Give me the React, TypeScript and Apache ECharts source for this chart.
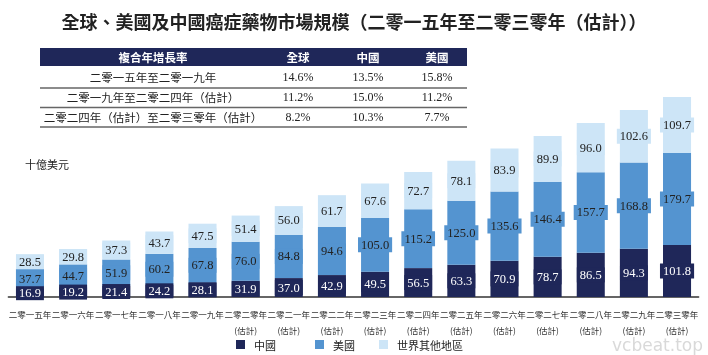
import React, { useEffect, useRef } from "react";
import * as echarts from "echarts";

const years = [
  "二零一五年", "二零一六年", "二零一七年", "二零一八年", "二零一九年",
  "二零二零年\n(估計)", "二零二一年\n(估計)", "二零二二年\n(估計)", "二零二三年\n(估計)",
  "二零二四年\n(估計)", "二零二五年\n(估計)", "二零二六年\n(估計)", "二零二七年\n(估計)",
  "二零二八年\n(估計)", "二零二九年\n(估計)", "二零三零年\n(估計)",
];
const china = [16.9, 19.2, 21.4, 24.2, 28.1, 31.9, 37.0, 42.9, 49.5, 56.5, 63.3, 70.9, 78.7, 86.5, 94.3, 101.8];
const usa = [37.7, 44.7, 51.9, 60.2, 67.8, 76.0, 84.8, 94.6, 105.0, 115.2, 125.0, 135.6, 146.4, 157.7, 168.8, 179.7];
const rest = [28.5, 29.8, 37.3, 43.7, 47.5, 51.4, 56.0, 61.7, 67.6, 72.7, 78.1, 83.9, 89.9, 96.0, 102.6, 109.7];

const seriesNames = ["中國", "美國", "世界其他地區"];
const colors = ["#1f2759", "#5494d0", "#cde5f7"];

const tableHeader = ["複合年增長率", "全球", "中國", "美國"];
const tablePeriods = [
  "二零一五年至二零一九年",
  "二零一九年至二零二四年（估計）",
  "二零二四年（估計）至二零三零年（估計）",
];
const cagrGlobal = ["14.6%", "11.2%", "8.2%"];
const cagrChina = ["13.5%", "15.0%", "10.3%"];
const cagrUSA = ["15.8%", "11.2%", "7.7%"];

const CJK = "'Noto Sans CJK TC', 'Noto Sans CJK SC', sans-serif";
const SERIF = "'Liberation Serif', 'DejaVu Serif', serif";

export default function App() {
  const ref = useRef<HTMLDivElement>(null);
  useEffect(() => {
    if (!ref.current) return;
    const chart = echarts.init(ref.current, undefined, { renderer: "svg" });

    const colX = [153, 298, 368, 437];
    const rowY = [77, 97, 117];
    const graphics: any[] = [
      { type: "rect", shape: { x: 40, y: 48, width: 427, height: 18 }, style: { fill: "#1f2759" } },
    ];
    tableHeader.forEach((h, i) => {
      graphics.push({
        type: "text", x: colX[i], y: 57,
        style: { text: h, fill: "#ffffff", font: `bold 11.5px ${CJK}`, textAlign: "center", textVerticalAlign: "middle" },
      });
    });
    tablePeriods.forEach((p, r) => {
      graphics.push({
        type: "text", x: colX[0], y: rowY[r],
        style: { text: p, fill: "#222", font: `11.5px ${CJK}`, textAlign: "center", textVerticalAlign: "middle" },
      });
      [cagrGlobal[r], cagrChina[r], cagrUSA[r]].forEach((v, c) => {
        graphics.push({
          type: "text", x: colX[c + 1], y: rowY[r],
          style: { text: v, fill: "#222", font: `12px ${SERIF}`, textAlign: "center", textVerticalAlign: "middle" },
        });
      });
    });
    [88, 107.5, 127].forEach((y) => {
      graphics.push({
        type: "line", shape: { x1: 40, y1: y, x2: 467, y2: y },
        style: { stroke: "#666", lineWidth: 1.3 },
      });
    });
    graphics.push({
      type: "text", x: 25, y: 164,
      style: { text: "十億美元", fill: "#222", font: `11px ${CJK}`, textVerticalAlign: "middle" },
    });
    graphics.push({
      type: "text", x: 703, y: 345,
      style: { text: "vcbeat.top", fill: "rgba(180,180,180,0.5)", font: `17px 'DejaVu Sans', sans-serif`, textAlign: "right", textVerticalAlign: "middle" },
    });

    const data = [china, usa, rest];
    const series = data.map((d, i) => ({
      name: seriesNames[i],
      type: "bar",
      stack: "total",
      data: d,
      barWidth: "65%",
      itemStyle: { color: colors[i] },
      label: {
        show: true,
        position: "inside",
        formatter: (p: any) => Number(p.value).toFixed(1),
        color: i === 0 ? "#ffffff" : "#222222",
        fontFamily: SERIF,
        fontSize: 12.5,
        backgroundColor: colors[i],
        padding: [1, 3],
      },
    }));

    const legendLeft = [234, 313, 377];
    chart.setOption({
      animation: false,
      title: {
        text: "全球、美國及中國癌症藥物市場規模（二零一五年至二零三零年（估計））",
        left: "center",
        top: 7,
        textStyle: { fontFamily: CJK, fontSize: 18, fontWeight: "bold", color: "#222" },
      },
      legend: seriesNames.map((n, i) => ({
        data: [n],
        left: legendLeft[i],
        top: 337,
        itemWidth: 9,
        itemHeight: 9,
        icon: "rect",
        itemGap: 8,
        padding: 2,
        textStyle: { fontFamily: CJK, fontSize: 11, color: "#222", padding: [0, 0, 0, 4] },
      })),
      grid: { left: 8.4, right: 9.4, top: 92.5, bottom: 58 },
      xAxis: {
        type: "category",
        data: years,
        axisLine: { lineStyle: { color: "#333", width: 1.5 } },
        axisTick: { show: false },
        axisLabel: { interval: 0, margin: 9, fontFamily: CJK, fontSize: 8.5, color: "#333", lineHeight: 16 },
      },
      yAxis: { type: "value", min: 0, max: 400, show: false, splitLine: { show: false } },
      graphic: graphics,
      series,
    });
    return () => chart.dispose();
  }, []);
  return <div ref={ref} style={{ width: 708, height: 355, position: "fixed", left: 0, top: 0 }} />;
}
